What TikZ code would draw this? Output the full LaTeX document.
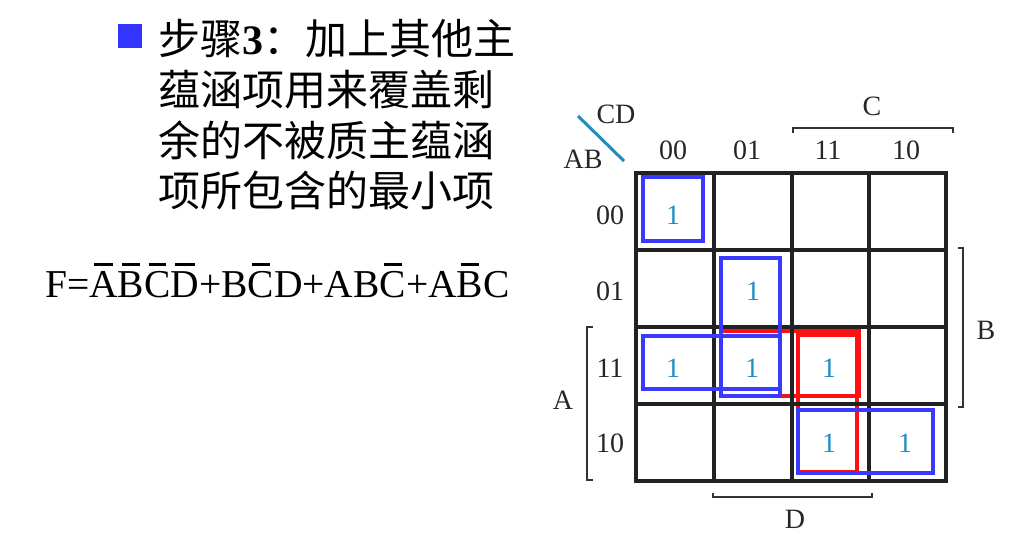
\documentclass[tikz,border=0pt]{standalone}
\usepackage{fontspec}
\setmainfont{Liberation Serif}
\newfontfamily\cjk{Noto Sans CJK SC}
\definecolor{gridc}{HTML}{222222}
\definecolor{loopblue}{HTML}{3A3AFF}
\definecolor{loopred}{HTML}{FF1010}
\definecolor{onec}{HTML}{1E8CC4}
\definecolor{bulletc}{HTML}{3434FF}
\newsavebox\olbox
\newcommand\olt[1]{\sbox\olbox{#1}\rlap{\hbox to \wd\olbox{\hss\raisebox{31pt}{\rule{0.68\wd\olbox}{2.6pt}}\hss}}\usebox\olbox}
\tikzset{
  cjkline/.style={anchor=base west, inner sep=0pt, font=\fontsize{42}{51}\selectfont\cjk},
  lbl/.style={inner sep=0pt, font=\fontsize{28}{32}\selectfont, text=black!85},
  one/.style={inner sep=0pt, font=\fontsize{28}{32}\selectfont, text=onec},
  gridline/.style={draw=gridc, line width=4pt},
  bluebox/.style={draw=loopblue, line width=3.2pt},
  redbox/.style={draw=loopred, line width=3.2pt},
  bracket/.style={draw=black!80, line width=1.4pt}
}
\begin{document}
\begin{tikzpicture}[x=1pt,y=-1pt]
\useasboundingbox (0,0) rectangle (1011,539);
% bullet and text
\node[fill=bulletc, minimum size=24pt, inner sep=0pt] (bullet) at (130,35.5) {};
\node[cjkline] (l1) at (158,54) {步骤{\fontspec{Liberation Serif}\bfseries 3}：加上其他主};
\node[cjkline] (l2) at (158,105) {蕴涵项用来覆盖剩};
\node[cjkline] (l3) at (158,156) {余的不被质主蕴涵};
\node[cjkline] (l4) at (158,206) {项所包含的最小项};
% formula
\node[anchor=base west, inner sep=0pt, font=\fontsize{39.5}{44}\selectfont] (F) at (45,297)
  {F=\olt{A}\olt{B}\olt{C}\olt{D}+B\olt{C}D+AB\olt{C}+A\olt{B}C};
% grid corners
\coordinate (g0) at (636,173);
\coordinate (g1) at (946,481);
% loops (red first)
\draw[redbox] (721,331) rectangle (859,396);
\draw[redbox] (798,335) rectangle (857,472);
% grid
\foreach \x in {714,792,869} \draw[gridline] (\x,173) -- (\x,481);
\foreach \y in {250,327,404} \draw[gridline] (636,\y) -- (946,\y);
\draw[gridline] (g0) rectangle (g1);
% blue loops
\draw[bluebox] (643,177) rectangle (703,241);
\draw[bluebox] (721,258) rectangle (780,396);
\draw[bluebox] (643,336) rectangle (780,389);
\draw[bluebox] (798,410) rectangle (933,473);
% ones
\node[one] (m0) at (673,215) {1};
\node[one] (m5) at (753,291) {1};
\node[one] (m12) at (673,368) {1};
\node[one] (m13) at (752,368) {1};
\node[one] (m15) at (829,368) {1};
\node[one] (m11) at (829,443) {1};
\node[one] (m10) at (905,443) {1};
% column labels
\node[lbl] (c00) at (673,150) {00};
\node[lbl] (c01) at (747,150) {01};
\node[lbl] (c11) at (828,150) {11};
\node[lbl] (c10) at (906,150) {10};
% row labels
\node[lbl] (r00) at (610,215) {00};
\node[lbl] (r01) at (610,291) {01};
\node[lbl] (r11) at (610,368) {11};
\node[lbl] (r10) at (610,443) {10};
% corner
\node[lbl] (CD) at (616,114) {CD};
\node[lbl] (AB) at (583,159) {AB};
\coordinate (d0) at (578,116);
\coordinate (d1) at (624,161);
\draw[draw=onec, line width=3pt] (d0) -- (d1);
% brackets
\coordinate (cb0) at (793,133); \coordinate (cb1) at (953,133);
\draw[bracket] (cb0) -- ++(0,-5) -| (cb1);
\node[lbl] (C) at (872,106) {C};
\coordinate (bb0) at (958,248); \coordinate (bb1) at (958,407);
\draw[bracket] (bb0) -- ++(5,0) |- (bb1);
\node[lbl] (B) at (986,330) {B};
\coordinate (ab0) at (593,327); \coordinate (ab1) at (593,480);
\draw[bracket] (ab0) -- ++(-6,0) |- (ab1);
\node[lbl] (A) at (563,400) {A};
\coordinate (db0) at (713,493); \coordinate (db1) at (872,493);
\draw[bracket] (db0) -- ++(0,4) -| (db1);
\node[lbl] (D) at (795,519) {D};
\end{tikzpicture}
\end{document}
